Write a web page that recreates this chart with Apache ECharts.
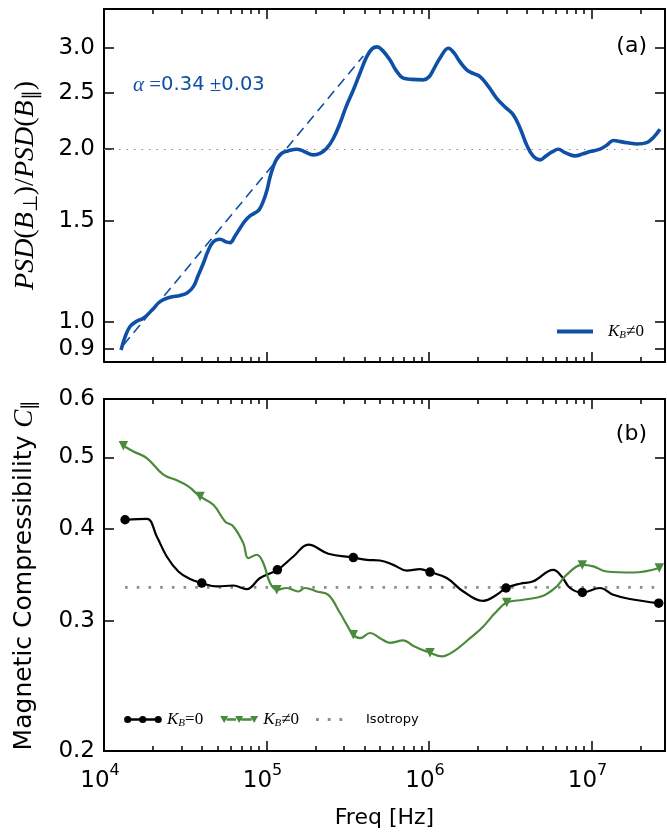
<!DOCTYPE html>
<html><head><meta charset="utf-8">
<script src="https://cdn.jsdelivr.net/npm/echarts@6/dist/echarts.min.js"></script>
<style>html,body{margin:0;padding:0;background:#fff}#c{width:667px;height:834px}</style>
</head><body><div id="c"></div>
<script>
// ---- data ----
const ratioFreq = [12720,13470,14450,15970,17450,19740,22110,25480,29360,32420,
  35440,37880,40830,43650,47060,51730,56340,59620,64010,68710,
  73740,79140,84970,89920,95150,100700,105100,110100,116000,124000,
  135600,153400,170200,194100,213400,234700,256600,283400,308500,342100,
  376200,413700,445900,478600,513600,575400,626700,694900,786200,922500,
  1000000,1063000,1169000,1315000,1425000,1552000,1706000,1866000,2060000,2307000,
  2610000,2936000,3303000,3631000,3992000,4365000,4822000,5248000,5714000,6248000,
  6869000,7913000,8866000,9790000,11280000,12460000,13620000,15410000,18980000,21870000,
  23900000,26400000];
const ratioVal = [0.895,0.943,0.983,1.005,1.016,1.050,1.086,1.105,1.113,1.124,
  1.153,1.204,1.266,1.330,1.380,1.394,1.379,1.375,1.412,1.457,
  1.500,1.530,1.549,1.567,1.618,1.697,1.788,1.864,1.925,1.966,
  1.984,1.998,1.980,1.953,1.965,2.005,2.081,2.217,2.366,2.532,
  2.710,2.893,2.984,3.008,2.972,2.855,2.738,2.654,2.641,2.636,
  2.668,2.744,2.878,2.992,2.936,2.832,2.744,2.705,2.671,2.573,
  2.449,2.366,2.292,2.175,2.032,1.945,1.914,1.945,1.976,1.998,
  1.971,1.945,1.961,1.979,1.998,2.032,2.068,2.057,2.040,2.051,
  2.090,2.164];
const fitFreq = [13150, 394000];
const fitVal = [0.913, 2.90];
const refLevelTop = 2.0;

const kb0Freq = [13470,18310,21100,24310,28660,33830,39930,49370,62470,75530,
  91200,116600,146200,180800,240100,342100,413700,499400,603100,729300,
  880600,1014000,1285000,1626000,2159000,2610000,2978000,3631000,4384000,5820000,
  6556000,7374000,8778000,11280000,13620000,17260000,25920000];
const kb0Val = [0.4116,0.4126,0.3907,0.3670,0.3502,0.3420,0.3378,0.3342,0.3352,0.3314,
  0.3431,0.3520,0.3670,0.3808,0.3702,0.3658,0.3631,0.3624,0.3575,0.3512,
  0.3528,0.3496,0.3431,0.3290,0.3196,0.3256,0.3326,0.3371,0.3396,0.3520,
  0.3448,0.3326,0.3280,0.3326,0.3256,0.3214,0.3172];
const kb0Marks = [0,6,11,15,21,26,32,36];

const kbnFreq = [13150,15150,18310,23170,28020,33020,38970,47060,55540,62470,
  71970,77270,87050,95570,105100,115600,133100,156900,172600,203700,
  240100,283400,342100,376200,433500,499400,575400,694900,800700,1014000,
  1197000,1411000,1788000,2159000,2548000,3008000,3805000,5052000,6107000,7039000,
  8778000,10260000,12400000,18080000,26140000];
const kbnVal = [0.5186,0.5094,0.4990,0.4738,0.4655,0.4567,0.4426,0.4313,0.4095,0.4031,
  0.3826,0.3651,0.3690,0.3594,0.3378,0.3308,0.3326,0.3290,0.3326,0.3290,
  0.3256,0.3076,0.2874,0.2844,0.2890,0.2844,0.2803,0.2824,0.2776,0.2718,
  0.2686,0.2727,0.2844,0.2950,0.3076,0.3178,0.3206,0.3247,0.3342,0.3467,
  0.3575,0.3558,0.3502,0.3491,0.3540];
const kbnMarks = [0,6,15,22,29,35,40,44];

const isoFreq = [13470, 25920000];
const isoVal = [0.3333, 0.3333];

const xMajorTicks = [1e4, 1e5, 1e6, 1e7];
const xMinorTicks = [2e4,3e4,4e4,5e4,6e4,7e4,8e4,9e4,
  2e5,3e5,4e5,5e5,6e5,7e5,8e5,9e5,
  2e6,3e6,4e6,5e6,6e6,7e6,8e6,9e6, 2e7];
const topYTicks = [0.9, 1.0, 1.5, 2.0, 2.5, 3.0];
const botYTicks = [0.2, 0.3, 0.4, 0.5, 0.6];

// ---- styling ----
const BLUE = '#0d50a5', GREEN = '#4a8b3b', BLACK = '#000';
const SANS = 'DejaVu Sans', SERIF = 'Liberation Serif';
const XMIN = 9990, XMAX = 2.834e7;

function pairs(xs, ys) { return xs.map((x, i) => [x, ys[i]]); }
function marked(xs, ys, marks, sym) {
  return xs.map((x, i) => ({ value: [x, ys[i]], symbol: marks.indexOf(i) >= 0 ? sym : 'none' }));
}
function mathRich(size, sansSize) {
  return {
    i: { fontFamily: SERIF, fontStyle: 'italic', fontSize: size, color: BLACK },
    r: { fontFamily: SERIF, fontSize: size, color: BLACK },
    s: { fontFamily: SANS, fontSize: sansSize || size, color: BLACK },
    subr: { fontFamily: SERIF, fontSize: Math.round(size * 0.7), padding: [Math.round(size * 0.45), 0, 0, 0], color: BLACK }
  };
}

function xAx(grid, pos, ticks, len, showLine, labels) {
  const a = {
    type: 'log', gridIndex: grid, position: pos, min: XMIN, max: XMAX,
    axisLine: { show: showLine, lineStyle: { color: BLACK, width: 2 } },
    axisTick: { show: true, inside: true, length: len, customValues: ticks, lineStyle: { color: BLACK, width: 1.5 } },
    axisLabel: { show: false },
    splitLine: { show: false }, minorTick: { show: false }
  };
  if (labels) {
    a.axisLabel = {
      show: true, customValues: ticks, margin: 12,
      formatter: v => '{b|10}{p|' + Math.round(Math.log10(v)) + '}',
      rich: {
        b: { fontFamily: SANS, fontSize: 23, color: BLACK },
        p: { fontFamily: SANS, fontSize: 16, color: BLACK, padding: [0, 8, 20, 0] }
      }
    };
    a.name = 'Freq [Hz]';
    a.nameLocation = 'middle';
    a.nameGap = 56;
    a.nameTextStyle = { fontFamily: SANS, fontSize: 22, color: BLACK };
  }
  return a;
}
function yAx(grid, pos, min, max, ticks, labels, name, nameGap, nameRich) {
  const a = {
    type: 'log', gridIndex: grid, position: pos, min: min, max: max,
    axisLine: { show: true, lineStyle: { color: BLACK, width: 2 } },
    axisTick: { show: true, inside: true, length: 10, customValues: ticks, lineStyle: { color: BLACK, width: 1.5 } },
    axisLabel: { show: false },
    splitLine: { show: false }, minorTick: { show: false }
  };
  if (labels) {
    a.axisLabel = {
      show: true, customValues: ticks, margin: 9,
      formatter: v => Number(v).toFixed(1),
      fontFamily: SANS, fontSize: 23, color: BLACK
    };
    a.name = name;
    a.nameLocation = 'middle';
    a.nameRotate = 90;
    a.nameGap = nameGap;
    a.nameTextStyle = { rich: nameRich, color: BLACK };
  }
  return a;
}

const circ = (cx, r) => `M${cx - r},4A${r},${r},0,1,1,${cx + r},4A${r},${r},0,1,1,${cx - r},4Z`;
const tri = (cx) => `M${cx - 4},0.6H${cx + 4}L${cx},7.6Z`;
const anchors = 'M0,0h0.01v0.01z M38,8h-0.01v-0.01z';
const bars = 'M6.5,2.7H16V5.3H6.5Z M21,2.7H31.5V5.3H21Z';
const iconKB0 = 'path://' + [circ(3.7, 3.6), circ(18.7, 3.6), circ(34.2, 3.6), bars, anchors].join(' ');
const iconKBN = 'path://' + [tri(4), tri(19), tri(34), bars, anchors].join(' ');
const iconISO = 'path://M0,2.6H2.8V5.4H0Z M11.7,2.6H14.5V5.4H11.7Z M23.4,2.6H26.2V5.4H23.4Z ' + anchors;

const legRich = {
  k: { fontFamily: SERIF, fontStyle: 'italic', fontSize: 17, color: BLACK },
  sb: { fontFamily: SERIF, fontStyle: 'italic', fontSize: 11, color: BLACK, padding: [8, 0, 0, 0] },
  r: { fontFamily: SERIF, fontSize: 17, color: BLACK },
  iso: { fontFamily: SANS, fontSize: 13, color: BLACK, padding: [0, 0, 0, 7] },
  kt: { fontFamily: SERIF, fontStyle: 'italic', fontSize: 17, color: BLACK, padding: [0, 0, 0, 10] }
};
const legendNames = {
  KBn_top: '{kt|K}{sb|B}{r|≠0}',
  KB0: '{k|K}{sb|B}{r|=0}',
  KBn: '{k|K}{sb|B}{r|≠0}',
  Isotropy: '{iso|Isotropy}'
};

const chart = echarts.init(document.getElementById('c'), null, { renderer: 'canvas' });
chart.setOption({
  animation: false,
  backgroundColor: '#fff',
  grid: [
    { left: 104, top: 9, width: 561, height: 353 },
    { left: 104, top: 399, width: 561, height: 352 }
  ],
  xAxis: [
    xAx(0, 'bottom', xMajorTicks, 10, true, false),
    xAx(0, 'top', xMajorTicks, 10, true, false),
    xAx(0, 'bottom', xMinorTicks, 5, false, false),
    xAx(0, 'top', xMinorTicks, 5, false, false),
    xAx(1, 'bottom', xMajorTicks, 10, true, true),
    xAx(1, 'top', xMajorTicks, 10, true, false),
    xAx(1, 'bottom', xMinorTicks, 5, false, false),
    xAx(1, 'top', xMinorTicks, 5, false, false)
  ],
  yAxis: [
    yAx(0, 'left', 0.853, 3.5, topYTicks, true,
      '{i|PSD}{r|(}{i|B}{subr|⊥}{r|)/}{i|PSD}{r|(}{i|B}{subr|∥}{r|)}', 62, mathRich(28)),
    yAx(0, 'right', 0.853, 3.5, topYTicks, false),
    yAx(1, 'left', 0.19995, 0.60005, botYTicks, true,
      '{s|Magnetic Compressibility }{i|C}{subr|∥}', 64, mathRich(27, 25)),
    yAx(1, 'right', 0.19995, 0.60005, botYTicks, false)
  ],
  legend: [
    {
      data: [{ name: 'KBn_top', icon: 'path://M0,0H36V4H0Z' }],
      left: 557, top: 323, padding: 0, itemWidth: 36, itemHeight: 4, selectedMode: false,
      itemStyle: { borderWidth: 0 },
      formatter: n => legendNames[n], textStyle: { rich: legRich }
    },
    {
      data: [{ name: 'KB0', icon: iconKB0 }, { name: 'KBn', icon: iconKBN }, { name: 'Isotropy', icon: iconISO }],
      left: 124, top: 711, padding: 0, itemWidth: 38, itemHeight: 8, itemGap: 17, selectedMode: false,
      itemStyle: { borderWidth: 0 },
      formatter: n => legendNames[n], textStyle: { rich: legRich }
    }
  ],
  graphic: [
    {
      type: 'text', x: 133, y: 85, silent: true,
      style: {
        text: '{a|α}{e| =}{n|0.34}{e| ±}{n|0.03}', verticalAlign: 'middle', align: 'left',
        rich: {
          a: { fontFamily: SERIF, fontStyle: 'italic', fontSize: 21, fill: BLUE },
          e: { fontFamily: SERIF, fontSize: 21, fill: BLUE },
          n: { fontFamily: SANS, fontSize: 19.5, fill: BLUE }
        }
      }
    },
    { type: 'text', x: 647, y: 46, silent: true,
      style: { text: '(a)', fontFamily: SANS, fontSize: 22, fill: BLACK, align: 'right', verticalAlign: 'middle' } },
    { type: 'text', x: 647, y: 434, silent: true,
      style: { text: '(b)', fontFamily: SANS, fontSize: 22, fill: BLACK, align: 'right', verticalAlign: 'middle' } }
  ],
  series: [
    {
      name: 'KBn_top', type: 'line', xAxisIndex: 0, yAxisIndex: 0, color: BLUE,
      data: pairs(ratioFreq, ratioVal), smooth: 0.4, symbol: 'none', z: 3,
      lineStyle: { color: BLUE, width: 3.6 },
      markLine: {
        silent: true, symbol: ['none', 'none'], label: { show: false }, z: 1,
        lineStyle: { color: '#8a8a8a', width: 1.2, type: [1.5, 6] },
        data: [{ yAxis: refLevelTop }]
      }
    },
    {
      name: 'fit', type: 'line', xAxisIndex: 0, yAxisIndex: 0,
      data: pairs(fitFreq, fitVal), symbol: 'none', z: 2,
      lineStyle: { color: BLUE, width: 1.6, type: [10, 6] }
    },
    {
      name: 'Isotropy', type: 'line', xAxisIndex: 4, yAxisIndex: 2, color: '#8c8c8c',
      data: pairs(isoFreq, isoVal), symbol: 'none', z: 1,
      lineStyle: { color: '#8c8c8c', width: 2.6, type: [2.6, 9.1] }
    },
    {
      name: 'KB0', type: 'line', xAxisIndex: 4, yAxisIndex: 2, color: BLACK,
      data: marked(kb0Freq, kb0Val, kb0Marks, 'circle'), smooth: 0.4,
      symbolSize: 9.5, showSymbol: true, z: 3,
      itemStyle: { color: BLACK, borderWidth: 0 },
      lineStyle: { color: BLACK, width: 2.2 }
    },
    {
      name: 'KBn', type: 'line', xAxisIndex: 4, yAxisIndex: 2, color: GREEN,
      data: marked(kbnFreq, kbnVal, kbnMarks, 'triangle'), smooth: 0.4,
      symbolSize: 9.5, symbolRotate: 180, showSymbol: true, z: 3,
      itemStyle: { color: GREEN, borderWidth: 0 },
      lineStyle: { color: GREEN, width: 2.2 }
    }
  ]
});
</script>
</body></html>
